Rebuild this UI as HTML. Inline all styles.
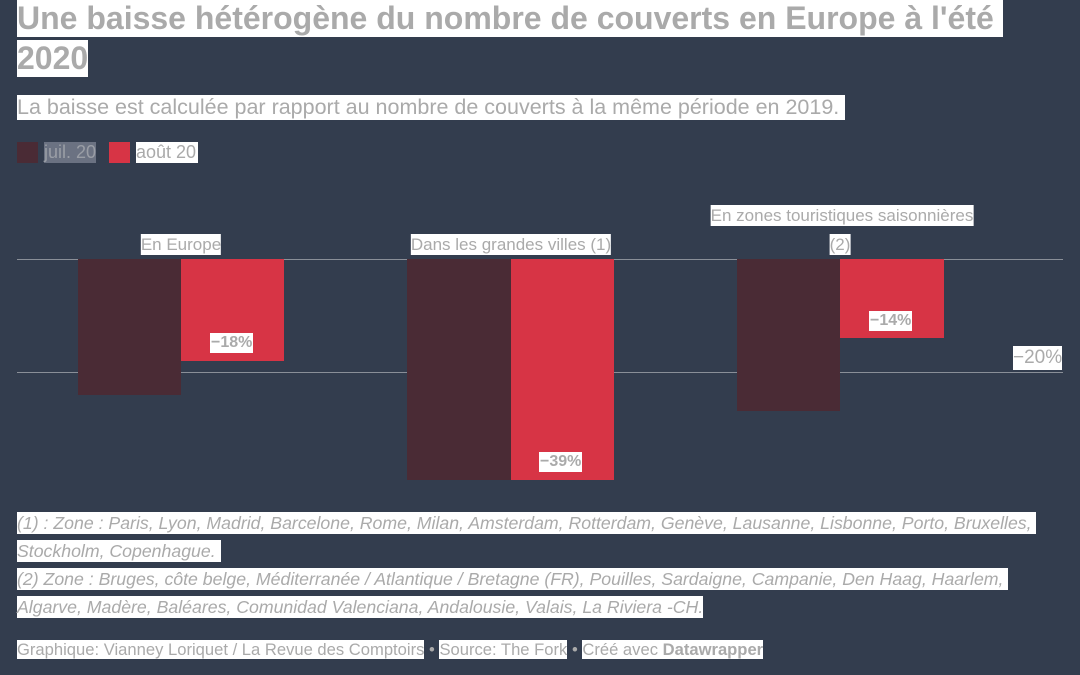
<!DOCTYPE html>
<html><head><meta charset="utf-8"><style>
*{margin:0;padding:0}
body{width:1080px;height:675px;background:#333d4e;position:relative;overflow:hidden;font-family:"Liberation Sans",sans-serif;color:#aaaaaa}
.a{position:absolute;white-space:nowrap}
.h{background:#fff}
.bar{position:absolute}
.d{background:#4a2b35}.r{background:#d73445}
.g{position:absolute;left:17px;width:1046px;height:1px;background:#8a8f98}
.v{position:absolute;font-weight:bold;font-size:16px;background:#fff;line-height:20px;padding:0 1px;white-space:nowrap}
.c{position:absolute;font-size:17px;line-height:21px;background:#fff;transform:translateX(-50%);white-space:nowrap}
.n{font-style:italic;font-size:17.7px;line-height:22px}
</style></head><body>
<div class="a h" style="left:17px;top:0;font-size:32px;font-weight:bold;line-height:37px;">Une baisse hétérogène du nombre de couverts en Europe à l'été&nbsp;</div>
<div class="a h" style="left:17px;top:40px;font-size:32px;font-weight:bold;line-height:37px;">2020</div>
<div class="a h" style="left:17px;top:95px;font-size:21.5px;line-height:25px;">La baisse est calculée par rapport au nombre de couverts à la même période en 2019.&nbsp;</div>
<div class="a" style="left:17px;top:142px;width:21px;height:21px;background:#4a2b35"></div>
<div class="a" style="left:44px;top:142px;font-size:18px;line-height:21px;background:#6b7282;color:#9a9ea6">juil. 20</div>
<div class="a" style="left:109px;top:142px;width:21px;height:21px;background:#d73445"></div>
<div class="a h" style="left:136px;top:142px;font-size:18px;line-height:21px;padding-right:2px">août 20</div>

<div class="g" style="top:259px"></div>
<div class="g" style="top:372px"></div>

<div class="bar d" style="left:78px;top:259px;width:103px;height:136px"></div>
<div class="bar r" style="left:181px;top:259px;width:103px;height:102px"></div>
<div class="bar d" style="left:407px;top:259px;width:104px;height:221px"></div>
<div class="bar r" style="left:511px;top:259px;width:103px;height:221px"></div>
<div class="bar d" style="left:737px;top:259px;width:103px;height:152px"></div>
<div class="bar r" style="left:840px;top:259px;width:104px;height:79px"></div>

<div class="v" style="left:210px;top:333px">−18%</div>
<div class="v" style="left:539px;top:452px">−39%</div>
<div class="v" style="left:869px;top:311px">−14%</div>
<div class="a h" style="left:1013px;top:346px;font-size:19px;line-height:24px">−20%</div>

<div class="c" style="left:181px;top:234px">En Europe</div>
<div class="c" style="left:511px;top:234px">Dans les grandes villes (1)</div>
<div class="c" style="left:842px;top:205px">En zones touristiques saisonnières</div>
<div class="c" style="left:840px;top:234px">(2)</div>

<div class="a n h" style="left:17px;top:512px">(1) : Zone : Paris, Lyon, Madrid, Barcelone, Rome, Milan, Amsterdam, Rotterdam, Genève, Lausanne, Lisbonne, Porto, Bruxelles,&nbsp;</div>
<div class="a n h" style="left:17px;top:540px">Stockholm, Copenhague.&nbsp;</div>
<div class="a n h" style="left:17px;top:568px">(2) Zone : Bruges, côte belge, Méditerranée / Atlantique / Bretagne (FR), Pouilles, Sardaigne, Campanie, Den Haag, Haarlem,&nbsp;</div>
<div class="a n h" style="left:17px;top:596px">Algarve, Madère, Baléares, Comunidad Valenciana, Andalousie, Valais, La Riviera -CH.</div>

<div class="a" style="left:17px;top:640px;font-size:16.6px;line-height:20px"><span class="h">Graphique: Vianney Loriquet / La Revue des Comptoirs</span> • <span class="h">Source: The Fork</span> • <span class="h">Créé avec <b>Datawrapper</b></span></div>
</body></html>
